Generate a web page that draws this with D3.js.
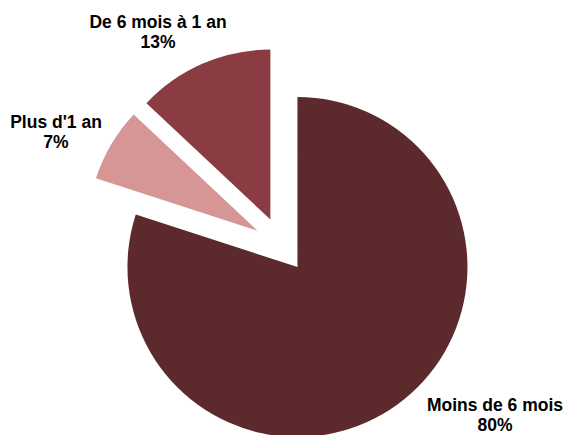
<!DOCTYPE html>
<html lang="fr">
<head>
    <meta charset="utf8">
    <script type="text/javascript" src="https://d3js.org/d3.v7.min.js"></script>
    <title>Pie</title>
    <style>
        body { margin: 0; background: #fff; }
    </style>
</head>
<body>
    <div class="chart"></div>
</body>
<script type="text/javascript">
    // data
    var categories = ["Moins de 6 mois", "Plus d'1 an", "De 6 mois à 1 an"];
    var values = [80, 7, 13];
    var colors = ["#5c2a2d", "#d59695", "#8b3c43"];

    var width = 563, height = 435;
    var svg = d3.select("div.chart")
        .append("svg")
        .attr("width", width)
        .attr("height", height)
        .style("display", "block");

    // pie centre and explode distance
    var cx = 281.3, cy = 244.8, radius = 170, explode = 27.5;

    var pie = d3.pie().sort(null).value(function(d){ return d; });
    var arcs = pie(values);
    var arc = d3.arc().innerRadius(0).outerRadius(radius);

    var g = svg.append("g").attr("transform", "translate(" + cx + "," + cy + ")");

    g.selectAll("path")
        .data(arcs)
        .enter()
        .append("path")
        .attr("d", arc)
        .attr("fill", function(d, i){ return colors[i]; })
        .attr("transform", function(d){
            var a = (d.startAngle + d.endAngle) / 2;
            return "translate(" + (explode * Math.sin(a)) + "," + (-explode * Math.cos(a)) + ")";
        });

    // label anchors (centre of first line baseline)
    var labelPos = [[495, 411], [56, 128], [158, 28]];
    var labels = svg.append("g")
        .attr("font-family", "'Liberation Sans', Arial, sans-serif")
        .attr("font-weight", "bold")
        .attr("font-size", 17.5)
        .attr("fill", "#000")
        .attr("text-anchor", "middle");

    arcs.forEach(function(d, i){
        var t = labels.append("text")
            .attr("x", labelPos[i][0])
            .attr("y", labelPos[i][1]);
        t.append("tspan").attr("x", labelPos[i][0]).text(categories[i]);
        t.append("tspan").attr("x", labelPos[i][0]).attr("dy", 20).text(values[i] + "%");
    });
</script>
</html>
